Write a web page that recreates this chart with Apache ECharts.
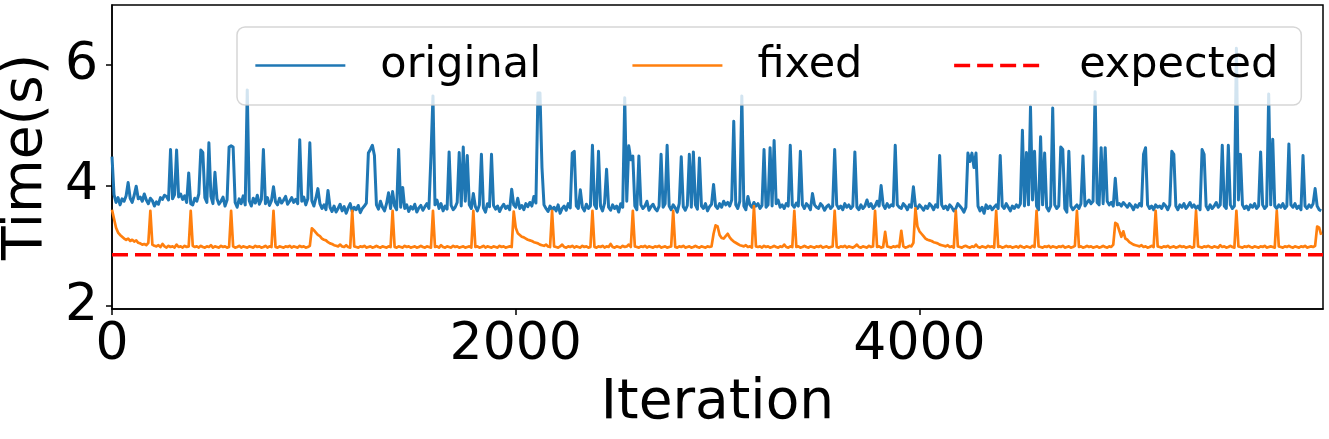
<!DOCTYPE html>
<html>
<head>
<meta charset="utf-8">
<script src="https://cdn.jsdelivr.net/npm/echarts@6/dist/echarts.min.js"></script>
<style>
  html, body { margin: 0; padding: 0; background: #fff; }
  #chart { width: 1329px; height: 439px; }
</style>
</head>
<body>
<div id="chart"></div>
<script>
// one value every STEP iterations
const STEP = 10;
const xTicks = [0, 2000, 4000];
const yTicks = [2, 4, 6];
const expected = 2.85;

const original = [
  4.48, 3.85, 3.72, 3.80, 3.68, 3.78, 3.74, 3.83, 4.05, 3.79, 3.72, 3.84, 3.99, 3.78, 3.81, 3.74, 3.86, 3.76, 3.70, 3.79,
  3.75, 3.66, 3.73, 3.69, 3.80, 3.77, 3.84, 3.82, 3.76, 4.60, 3.78, 3.85, 4.59, 3.81, 3.86, 3.77, 3.83, 3.72, 4.21, 3.70,
  3.68, 3.79, 3.74, 3.86, 4.59, 4.55, 3.80, 3.72, 4.71, 3.82, 3.70, 4.22, 3.78, 3.69, 3.74, 3.81, 3.66, 3.76, 4.64, 4.66,
  4.64, 3.72, 3.64, 3.78, 3.70, 3.83, 3.68, 5.59, 3.75, 3.66, 3.79, 3.71, 3.84, 3.69, 3.77, 4.60, 3.70, 3.80, 3.67, 3.75,
  3.98, 3.73, 3.68, 3.79, 3.71, 3.76, 3.82, 3.69, 3.74, 3.80, 3.72, 3.77, 3.70, 4.76, 3.74, 3.81, 3.68, 3.78, 4.71, 3.75,
  3.66, 3.79, 3.95, 3.70, 3.62, 3.68, 3.60, 3.92, 3.64, 3.57, 3.66, 3.56, 3.62, 3.69, 3.58, 3.65, 3.54, 3.63, 3.70, 3.57,
  3.64, 3.60, 3.67, 3.55, 3.62, 3.66, 3.71, 4.54, 4.60, 4.67, 4.50, 3.68, 3.61, 3.74, 3.64, 3.58, 3.70, 3.88, 3.62, 3.90,
  3.66, 3.60, 4.60, 3.64, 3.97, 3.62, 3.68, 3.57, 3.65, 3.61, 3.69, 3.56, 3.63, 3.67, 3.59, 3.65, 3.70, 3.62, 4.49, 5.49,
  3.68, 3.76, 3.62, 3.70, 3.58, 3.66, 3.61, 4.56, 3.67, 3.60, 3.64, 3.72, 4.55, 3.66, 4.64, 3.74, 4.50, 3.68, 3.62, 3.87,
  3.65, 3.58, 3.68, 4.52, 3.63, 3.56, 3.70, 3.65, 4.52, 3.67, 3.61, 3.66, 3.57, 3.64, 3.69, 3.62, 3.66, 3.60, 3.94, 3.68,
  3.64, 3.79, 3.62, 3.67, 3.60, 3.70, 3.65, 3.72, 3.66, 3.82, 3.71, 5.54, 5.54, 4.30, 3.68, 3.62, 3.57, 3.66, 3.60, 3.64,
  3.58, 3.68, 3.54, 3.62, 3.66, 3.59, 3.70, 3.63, 4.54, 4.57, 3.66, 3.62, 3.93, 3.64, 3.58, 3.69, 3.62, 3.66, 4.67, 3.68,
  3.62, 4.57, 3.66, 3.58, 3.71, 4.27, 3.64, 3.59, 3.68, 3.62, 3.66, 3.56, 3.70, 3.64, 5.46, 3.74, 4.66, 4.43, 4.49, 3.66,
  3.60, 4.49, 3.68, 3.62, 3.66, 3.74, 3.59, 3.65, 3.69, 3.62, 3.58, 3.66, 4.52, 3.64, 3.70, 4.67, 3.66, 3.60, 3.68, 3.63,
  3.56, 3.70, 4.48, 3.65, 3.59, 3.67, 4.52, 3.64, 4.56, 3.68, 3.61, 4.46, 3.66, 3.62, 3.70, 3.58, 3.65, 3.69, 4.02, 3.66,
  3.62, 3.70, 3.64, 3.74, 3.68, 3.72, 3.66, 3.76, 5.07, 3.68, 3.62, 3.74, 5.49, 3.66, 3.60, 3.82, 3.68, 3.64, 3.72, 3.66,
  3.70, 3.62, 3.67, 4.60, 3.64, 3.68, 4.63, 3.66, 4.75, 3.70, 3.76, 3.64, 3.68, 3.62, 3.70, 3.66, 4.67, 3.68, 3.64, 3.71,
  3.66, 4.57, 3.68, 3.62, 3.70, 3.66, 3.60, 3.87, 3.68, 3.64, 3.62, 3.70, 3.66, 3.59, 3.65, 3.68, 3.62, 3.66, 4.60, 3.68,
  3.62, 3.66, 3.60, 3.70, 3.64, 3.68, 3.62, 3.66, 4.56, 3.64, 3.60, 3.68, 3.62, 3.66, 3.76, 3.65, 3.70, 3.62, 3.66, 3.74,
  3.66, 4.00, 3.68, 3.62, 3.70, 3.64, 3.68, 3.66, 4.67, 3.68, 3.64, 3.62, 3.70, 3.66, 3.60, 3.68, 3.64, 3.98, 3.66, 3.62,
  3.68, 3.64, 3.59, 3.66, 3.62, 3.70, 3.66, 3.60, 3.68, 3.64, 4.50, 3.68, 3.62, 3.66, 3.60, 3.68, 3.64, 3.58, 3.62, 3.70,
  3.66, 3.62, 3.56, 3.64, 4.54, 4.40, 4.54, 4.30, 4.54, 3.66, 3.58, 3.64, 3.54, 3.68, 3.62, 3.66, 3.60, 3.64, 3.68, 3.62,
  4.50, 3.66, 3.62, 3.70, 3.64, 3.58, 3.66, 3.62, 3.68, 3.64, 3.70, 4.92, 3.66, 4.55, 3.68, 5.31, 3.76, 4.57, 3.66, 3.60,
  4.81, 3.68, 4.54, 3.64, 3.58, 3.66, 5.29, 3.68, 3.62, 3.66, 4.64, 4.60, 3.62, 3.56, 4.57, 3.66, 3.60, 3.64, 3.68, 3.62,
  3.70, 4.49, 3.66, 3.72, 3.76, 3.70, 3.74, 5.56, 3.72, 3.68, 4.63, 3.70, 4.63, 3.74, 3.68, 3.72, 3.66, 4.12, 3.68, 3.70,
  3.66, 3.72, 3.68, 3.64, 3.70, 3.66, 3.60, 3.68, 3.64, 3.70, 3.66, 4.52, 4.63, 3.68, 3.62, 3.66, 3.60, 3.68, 3.64, 3.66,
  3.62, 3.70, 3.66, 3.60, 3.68, 4.57, 4.52, 3.66, 3.60, 3.68, 3.64, 3.70, 3.62, 3.66, 3.72, 3.64, 3.68, 3.62, 3.66, 3.60,
  4.60, 4.52, 3.66, 3.60, 3.68, 3.62, 3.66, 3.72, 3.64, 3.68, 4.67, 3.66, 3.62, 4.67, 3.68, 3.62, 3.66, 6.28, 3.76, 4.52,
  3.68, 3.62, 3.66, 3.60, 3.68, 3.64, 3.70, 3.62, 3.66, 4.56, 3.68, 3.62, 3.66, 5.52, 3.68, 4.77, 3.66, 3.62, 3.68, 3.64,
  3.70, 3.62, 3.66, 4.69, 3.68, 3.64, 3.70, 3.62, 3.66, 3.60, 4.50, 3.66, 3.62, 3.68, 3.64, 3.70, 3.95, 3.66, 3.60, 3.58
];

const fixed = [
  3.60, 3.45, 3.30, 3.22, 3.18, 3.15, 3.12, 3.10, 3.12, 3.08, 3.10, 3.07, 3.09, 3.05, 3.04, 3.02, 3.03, 3.01, 3.05, 3.58,
  3.02, 3.00, 2.99, 3.01, 2.98, 3.03, 2.99, 2.97, 3.00, 2.98, 2.99, 2.97, 3.02, 2.98, 2.99, 2.97, 3.00, 2.98, 2.99, 3.58,
  3.00, 2.98, 2.99, 2.97, 3.00, 2.98, 2.97, 2.99, 2.98, 3.01, 2.97, 2.99, 2.98, 2.97, 3.00, 2.98, 2.99, 2.97, 2.98, 3.58,
  2.99, 2.97, 2.98, 3.00, 2.97, 2.99, 2.98, 2.97, 2.99, 2.98, 2.97, 3.00, 2.98, 2.99, 2.97, 2.98, 3.00, 2.97, 2.99, 2.98,
  3.58, 2.98, 2.97, 2.99, 2.98, 2.97, 2.99, 2.98, 3.00, 2.97, 2.99, 2.98, 2.97, 3.00, 2.98, 2.99, 2.97, 2.98, 3.00, 3.29,
  3.26, 3.22, 3.18, 3.16, 3.12, 3.10, 3.09, 3.06, 3.04, 3.03, 3.01, 3.00, 2.99, 3.02, 2.99, 2.98, 3.01, 2.98, 2.97, 3.58,
  2.99, 2.98, 2.97, 2.99, 2.98, 3.00, 2.97, 2.98, 2.99, 2.97, 2.98, 3.00, 2.98, 2.97, 2.99, 2.98, 2.97, 2.99, 2.98, 3.58,
  2.98, 2.97, 2.99, 2.98, 2.97, 3.00, 2.98, 2.99, 2.97, 2.98, 2.99, 2.97, 2.98, 3.00, 2.98, 2.97, 2.99, 2.98, 2.97, 3.58,
  2.98, 2.99, 2.97, 3.01, 2.98, 2.97, 2.99, 2.98, 2.97, 3.00, 2.98, 2.99, 2.97, 2.98, 2.99, 2.97, 2.98, 2.99, 2.97, 3.58,
  2.98, 2.99, 2.97, 2.98, 3.00, 2.97, 2.99, 2.98, 2.97, 2.99, 2.98, 2.97, 3.00, 2.98, 2.99, 2.97, 2.98, 2.99, 2.98, 3.57,
  3.30, 3.21, 3.18, 3.15, 3.14, 3.12, 3.10, 3.09, 3.08, 3.06, 3.05, 3.04, 3.02, 3.01, 3.00, 3.02, 2.99, 2.98, 3.58, 2.99,
  2.98, 2.97, 2.99, 3.02, 2.98, 2.97, 2.99, 2.98, 3.00, 2.97, 2.99, 2.98, 2.97, 3.00, 2.98, 2.99, 2.97, 2.98, 3.58, 2.98,
  2.97, 2.99, 2.98, 3.00, 2.97, 2.99, 2.98, 3.03, 2.98, 2.97, 2.99, 2.98, 2.97, 3.00, 2.98, 2.99, 3.02, 2.98, 3.58, 2.99,
  2.98, 2.97, 2.99, 2.98, 3.00, 2.97, 2.99, 2.98, 2.97, 2.99, 2.98, 3.00, 2.97, 2.98, 2.99, 2.97, 2.98, 2.99, 3.58, 2.98,
  2.97, 2.99, 2.98, 3.00, 2.97, 2.98, 2.99, 2.97, 2.98, 3.00, 2.98, 2.97, 2.99, 2.98, 2.97, 2.99, 2.98, 2.99, 3.20, 3.34,
  3.32, 3.18, 3.13, 3.12, 3.16, 3.20, 3.14, 3.10, 3.07, 3.05, 3.03, 3.01, 3.00, 2.99, 3.01, 2.98, 2.99, 2.97, 3.66, 2.99,
  2.98, 2.99, 2.97, 3.00, 2.98, 2.99, 2.97, 2.98, 3.00, 2.98, 2.97, 2.99, 2.98, 3.02, 2.98, 2.97, 2.99, 2.98, 3.58, 2.98,
  2.99, 2.97, 2.98, 3.00, 2.98, 2.97, 2.99, 2.98, 2.97, 2.99, 2.98, 3.00, 2.97, 2.98, 2.99, 2.97, 2.98, 2.99, 3.58, 2.98,
  2.97, 2.99, 2.98, 3.00, 2.97, 2.99, 2.98, 2.97, 2.99, 3.02, 2.98, 2.97, 2.99, 2.98, 2.97, 3.00, 2.98, 2.99, 3.58, 2.98,
  2.99, 2.97, 2.98, 3.23, 2.99, 2.98, 2.97, 2.99, 2.98, 3.00, 2.98, 3.25, 2.99, 2.97, 2.98, 3.00, 2.99, 3.05, 3.62, 3.32,
  3.24, 3.20, 3.16, 3.12, 3.10, 3.09, 3.08, 3.06, 3.05, 3.04, 3.02, 3.01, 3.00, 2.99, 3.01, 2.98, 2.99, 2.97, 3.58, 2.99,
  2.98, 2.97, 2.99, 3.00, 2.98, 2.97, 2.99, 2.98, 3.02, 2.98, 2.97, 2.99, 2.98, 2.97, 3.00, 2.98, 2.99, 2.97, 3.58, 2.98,
  2.99, 2.97, 2.98, 3.00, 2.98, 2.99, 2.97, 2.98, 2.99, 2.97, 3.00, 2.98, 2.97, 2.99, 2.98, 2.97, 3.00, 2.98, 3.58, 2.99,
  2.98, 2.97, 2.99, 2.98, 3.00, 2.97, 2.99, 2.98, 2.97, 2.99, 2.98, 3.00, 2.97, 2.98, 2.99, 2.97, 2.98, 3.00, 3.58, 2.98,
  2.99, 2.97, 2.98, 3.00, 2.98, 2.99, 2.97, 2.98, 2.99, 2.97, 2.98, 3.00, 2.98, 2.97, 2.99, 2.98, 3.02, 3.38, 3.36, 3.25,
  3.15, 3.24, 3.12, 3.10, 3.06, 3.04, 3.02, 3.01, 3.00, 2.99, 3.01, 2.98, 2.99, 2.97, 2.98, 3.00, 2.98, 3.58, 2.99, 2.98,
  2.97, 2.99, 2.98, 3.00, 2.97, 2.98, 2.99, 2.97, 2.98, 3.00, 2.98, 2.99, 2.97, 2.98, 2.99, 2.97, 2.98, 3.58, 2.99, 2.98,
  2.97, 2.99, 2.98, 3.00, 2.98, 2.97, 2.99, 2.98, 2.97, 3.01, 2.98, 2.99, 2.97, 2.98, 3.00, 2.98, 2.97, 3.58, 2.99, 2.98,
  2.97, 2.99, 2.98, 3.00, 2.98, 2.97, 2.99, 2.98, 2.97, 2.99, 2.98, 3.00, 2.97, 2.98, 2.99, 2.98, 2.97, 3.58, 2.99, 2.98,
  2.97, 2.99, 2.98, 3.00, 2.98, 2.97, 2.99, 2.98, 2.97, 2.99, 2.98, 3.00, 2.97, 2.98, 2.99, 2.98, 3.00, 3.32, 3.30, 3.18
];

var chartDom = document.getElementById('chart');
var myChart = echarts.init(chartDom);
var option;

const font = 'DejaVu Sans';
const lastX = 5999;

function toPoints(values) {
  return values.map(function (v, i) { return [i * STEP, v]; });
}

option = {
  animation: false,
  textStyle: { fontFamily: font },
  grid: {
    left: 112, right: 6, top: 5, bottom: 130,
    containLabel: false, outerBoundsMode: 'none',
    show: true, borderColor: '#000', borderWidth: 1.5
  },
  legend: {
    left: 237, top: 27,
    padding: [17, 23, 18, 17],
    itemWidth: 90, itemHeight: 20, itemGap: 90,
    backgroundColor: 'rgba(255,255,255,0.8)',
    borderColor: 'rgba(204,204,204,0.8)', borderWidth: 1.5, borderRadius: 8,
    itemStyle: { opacity: 0 },
    textStyle: { fontFamily: font, fontSize: 43, color: '#000', padding: [0, 0, 0, 30] },
    data: [
      { name: 'original', lineStyle: { width: 2.7 } },
      { name: 'fixed', lineStyle: { width: 2.7 } },
      { name: 'expected', lineStyle: { width: 3.5, type: [16, 7] } }
    ]
  },
  xAxis: {
    type: 'value', min: 0, max: lastX,
    name: 'Iteration', nameLocation: 'middle', nameGap: 66,
    nameTextStyle: { fontFamily: font, fontSize: 55, color: '#000' },
    axisLine: { show: true, lineStyle: { color: '#000', width: 1.5 } },
    axisTick: { show: true, length: 6, lineStyle: { color: '#000', width: 1.5 }, customValues: xTicks },
    axisLabel: {
      fontFamily: font, fontSize: 52, color: '#000', margin: 10, customValues: xTicks,
      formatter: function (v) { return String(v); }
    },
    splitLine: { show: false }
  },
  yAxis: {
    type: 'value', min: 1.95, max: 7,
    name: 'Time(s)', nameLocation: 'middle', nameGap: 52, nameRotate: 90,
    nameTextStyle: { fontFamily: font, fontSize: 55, color: '#000' },
    axisLine: { show: true, lineStyle: { color: '#000', width: 1.5 } },
    axisTick: { show: true, length: 6, lineStyle: { color: '#000', width: 1.5 }, customValues: yTicks },
    axisLabel: { fontFamily: font, fontSize: 52, color: '#000', margin: 14, customValues: yTicks },
    splitLine: { show: false }
  },
  series: [
    {
      name: 'original', type: 'line', showSymbol: false, symbol: 'none',
      color: '#1f77b4', sampling: 'none',
      lineStyle: { color: '#1f77b4', width: 3, join: 'round' },
      data: toPoints(original)
    },
    {
      name: 'fixed', type: 'line', showSymbol: false, symbol: 'none',
      color: '#ff7f0e', sampling: 'none',
      lineStyle: { color: '#ff7f0e', width: 2.7, join: 'round' },
      data: toPoints(fixed)
    },
    {
      name: 'expected', type: 'line', showSymbol: false, symbol: 'none',
      color: '#ff0000',
      lineStyle: { color: '#ff0000', width: 3.5, type: [16, 7] },
      data: [[0, expected], [lastX, expected]]
    }
  ]
};

option && myChart.setOption(option);
</script>
</body>
</html>
